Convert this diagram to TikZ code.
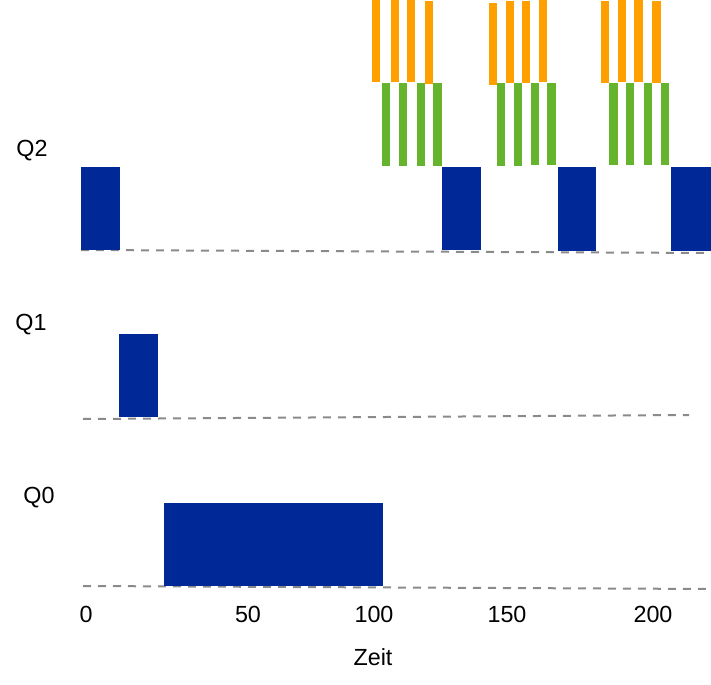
\documentclass[tikz,border=0pt]{standalone}
\usepackage{fontspec}
\setmainfont{Liberation Sans}
\usepackage{tikz}
\definecolor{jobblue}{HTML}{002896}
\definecolor{iogreen}{HTML}{66B32E}
\definecolor{cpuorange}{HTML}{FFA000}
\definecolor{axisgray}{HTML}{8A8A8A}

\begin{document}
\begin{tikzpicture}[x=0.75pt,y=-0.75pt,
  lbl/.style={font=\fontsize{17.5}{20}\selectfont,inner sep=0pt,anchor=center},
  job/.style={fill=jobblue},
  burst/.style={fill=cpuorange},
  wait/.style={fill=iogreen},
  base/.style={draw=axisgray,line width=1.5pt,dash pattern=on 6pt off 5.25pt}]
\useasboundingbox (0,0) rectangle (711,685);
% queue labels
\node[lbl] (q2) at (32,151) {Q2};
\node[lbl] (q1) at (31,325) {Q1};
\node[lbl] (q0) at (39,498) {Q0};
% base lines of the queues
\coordinate (q2a) at (81,250);  \coordinate (q2b) at (711,253);
\coordinate (q1a) at (83,419);  \coordinate (q1b) at (689,415);
\coordinate (q0a) at (83,586);  \coordinate (q0b) at (711,589);
\draw[base] (q2a) -- (q2b);
\draw[base] (q1a) -- (q1b);
\draw[base] (q0a) -- (q0b);
% time slices
\foreach \xa/\xb/\ya/\yb in {81/120/167/250,442/481/167/250,558/596/167/251,671/711/167/251,
  119/158/334/417,164/383/503/586}
  \fill[job] (\xa,\ya) rectangle (\xb,\yb);
\foreach \xa/\xb/\ya/\yb in {372/380/0/82,391/399/0/82,407/415/0/82,425/433/1/84,
  489/497/3/85,506/514/1/83,522/530/1/83,539/547/0/82,
  601/609/1/83,618/626/0/82,634/643/0/82,652/661/1/83}
  \fill[burst] (\xa,\ya) rectangle (\xb,\yb);
\foreach \xa/\xb/\ya/\yb in {382/390/83/166,399/407/83/166,417/425/83/166,433/442/83/166,
  497/505/83/166,514/522/83/166,531/539/83/165,547/556/83/165,
  609/618/83/165,626/634/83/165,644/652/83/165,661/669/83/165}
  \fill[wait] (\xa,\ya) rectangle (\xb,\yb);
% time axis
\node[lbl] (t0) at (86,614) {0};
\node[lbl] (t50) at (248,614) {50};
\node[lbl] (t100) at (374,614) {100};
\node[lbl] (t150) at (507,614) {150};
\node[lbl] (t200) at (653,614) {200};
\node[lbl] (zeit) at (373,657) {Zeit};
\end{tikzpicture}
\end{document}
